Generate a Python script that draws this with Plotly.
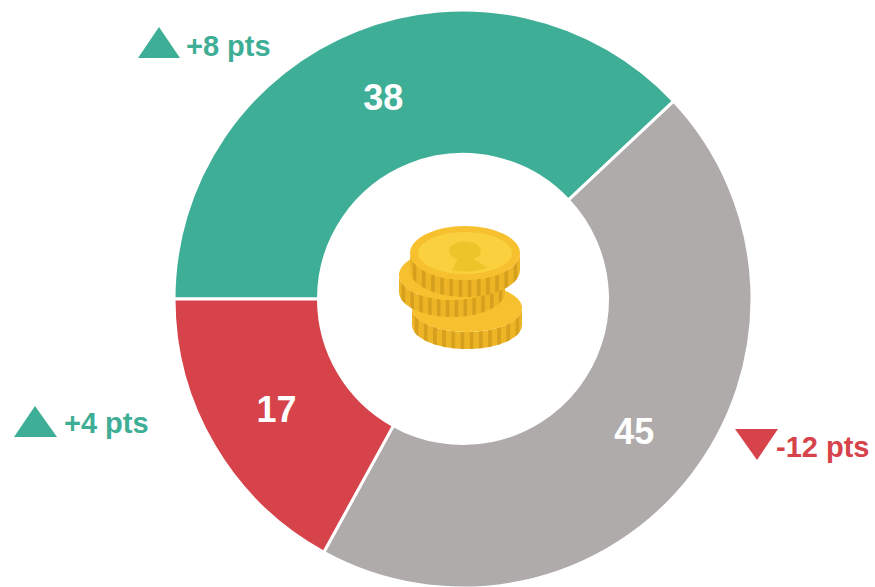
import math
import plotly.graph_objects as go

categories = ["Favourable", "Neutral", "Unfavourable"]
values = [38, 45, 17]
slice_colors = ["#3FAE96", "#AFABAA", "#D6434A"]
change_labels = ["+8 pts", "+4 pts", "-12 pts"]

W, H = 875, 588
FONT = "Liberation Sans"

fig = go.Figure(go.Pie(
    labels=categories, values=values, sort=False, direction="clockwise", rotation=270,
    hole=0.5, marker=dict(colors=slice_colors, line=dict(color="white", width=3)),
    textinfo="value", textposition="inside", insidetextorientation="horizontal",
    textfont=dict(family=FONT, size=36, color="white", weight="bold"),
    showlegend=False, hoverinfo="label+value",
    domain=dict(x=[174/W, 752/W], y=[0, 578/H]),
))

shapes = []
def path(d, fill):
    shapes.append(dict(type="path", xref="x", yref="y", path=d, fillcolor=fill, line=dict(width=0), layer="above"))

def ell(cx, cy, rx, ry, fill):
    shapes.append(dict(type="circle", xref="x", yref="y", x0=cx-rx, x1=cx+rx, y0=cy-ry, y1=cy+ry,
                       fillcolor=fill, line=dict(width=0), layer="above"))

def arc(cx, cy, rx, ry, a0, a1, n=24):
    return [(cx+rx*math.cos(a0+(a1-a0)*i/n), cy+ry*math.sin(a0+(a1-a0)*i/n)) for i in range(n+1)]

def poly(pts):
    return "M" + " L".join(f"{x:.1f},{y:.1f}" for x, y in pts) + " Z"

def coin(cx, cy, rx, ry, d, inner=True):
    path(poly(arc(cx, cy, rx, ry, 0, math.pi) + arc(cx, cy+d, rx, ry, math.pi, 0)), "#EDB526")
    n = 12
    for i in range(n):
        a = math.acos(1 - 2*(i+0.3)/n)
        b = math.acos(1 - 2*(i+0.7)/n)
        p = arc(cx, cy, rx, ry, a, b, 2) + arc(cx, cy+d, rx, ry, b, a, 2)
        path(poly(p), "#D6A01E")
    ell(cx, cy, rx, ry, "#F6C02E")
    if inner:
        ell(cx, cy, rx-8, ry-6, "#FBD03F")

coin(467, 308, 55, 24, 17, inner=False)
coin(452, 275, 53, 25, 17, inner=False)
coin(465, 253, 55, 27, 17)
# silhouette on the top coin
ell(465, 251, 16, 9.5, "#EDC52A")
path("M458,258 L472,258 L488,268 Q470,274 452,270 Z", "#EDC52A")

# change markers
path("M138,58 L159,27 L180,58 Z", "#3FAE96")
path("M14,437 L35,406 L57,437 Z", "#3FAE96")
path("M735,429 L778,429 L757,460 Z", "#D6434A")

annots = [(186, 46, change_labels[0], slice_colors[0]),
          (64, 423, change_labels[1], slice_colors[0]),
          (776, 447, change_labels[2], slice_colors[2])]
ann = [dict(x=x, y=y, xref="x", yref="y", text=f"<b>{t}</b>", showarrow=False, xanchor="left", yanchor="middle",
            xshift=-2, font=dict(family=FONT, size=29, color=c)) for x, y, t, c in annots]

fig.update_layout(
    width=W, height=H, margin=dict(l=0, r=0, t=0, b=0), paper_bgcolor="white", plot_bgcolor="rgba(0,0,0,0)",
    xaxis=dict(range=[0, W], visible=False, fixedrange=True),
    yaxis=dict(range=[H, 0], visible=False, fixedrange=True),
    shapes=shapes, annotations=ann,
)
fig.add_trace(go.Scatter(x=[0], y=[0], mode="markers", marker=dict(opacity=0), showlegend=False, hoverinfo="skip"))
fig.write_html("out.html", config={"displayModeBar": False},
               post_script="document.body.style.margin='0';document.documentElement.style.overflow='hidden';")
